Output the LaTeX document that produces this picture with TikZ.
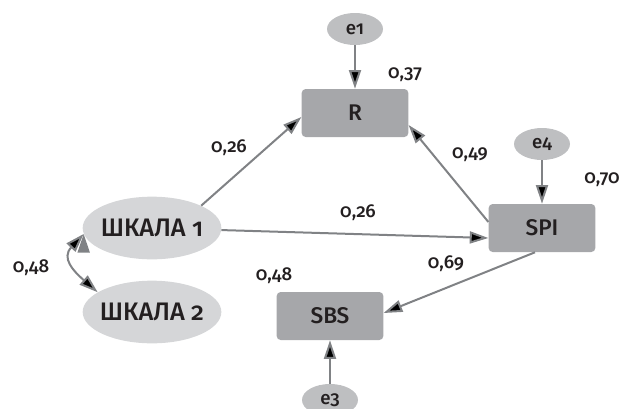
\documentclass[tikz,border=0pt]{standalone}
\usepackage{fontspec}
\setmainfont{Fira Sans}[UprightFont={* Medium}, Numbers=OldStyle]
\usetikzlibrary{arrows.meta,shapes,positioning,calc}
\definecolor{boxgray}{RGB}{166,167,170}
\definecolor{scalegray}{RGB}{213,214,216}
\definecolor{errgray}{RGB}{190,191,193}
\definecolor{linegray}{RGB}{128,130,133}
\definecolor{txtgray}{RGB}{35,31,32}
\tikzset{obs/.style={rectangle,rounded corners=3pt,fill=boxgray,minimum width=80pt,minimum height=36pt,font=\fontsize{17}{20}\selectfont},
 scalenode/.style={ellipse,fill=scalegray,minimum width=104pt,minimum height=47pt,inner xsep=-3pt,inner ysep=0pt,font=\fontsize{19}{22}\selectfont},
 err/.style={ellipse,fill=errgray,minimum width=42pt,minimum height=24pt,inner sep=0pt,font=\fontsize{14}{16}\selectfont},
 coef/.style={font=\fontsize{14}{16}\selectfont}}

\begin{document}
\begin{tikzpicture}[x=0.75pt, y=0.75pt, >={Triangle[length=14pt,width=9pt]}, node distance=63pt, text=txtgray]
\useasboundingbox (0,0) rectangle (621,-408);
\node[obs] (R) at (355,-113) {R};
\node[obs] (SPI) at (542,-228) {SPI};
\node[obs] (SBS) at (330,-316) {SBS};
\node[err][above of=R] (e1) {e1};
\node[err][above of=SPI] (e4) {e4};
\node[err][below of=SBS] (e3) {e3};
\node[scalenode] (S1) at (152,-228) {ШКАЛА 1};
\node[scalenode][below of=S1] (S2) {ШКАЛА 2};
% coefficients
\node[coef] (c1) at (405,-75) {0,37};
\node[coef] (c2) at (229,-148) {0,26};
\node[coef] (c3) at (470,-155) {0,49};
\node[coef] (c4) at (602,-180) {0,70};
\node[coef] (c5) at (358,-213) {0,26};
\node[coef] (c6) at (446,-264) {0,69};
\node[coef] (c7) at (274,-276) {0,48};
\node[coef] (c8) at (31,-268) {0,48};
\path[->, draw=linegray, line width=1.5pt]
  (e1) edge (R)
  (e4) edge (SPI)
  (e3) edge (SBS)
  (S1.north east) edge ($(R.west)+(0,-4)$)
  (S1) edge ($(SPI.west)+(0,-10)$)
  ($(SPI.west)+(0,6)$) edge ($(R.east)+(0,-12)$)
  ($(SPI.south)+(-7,0)$) edge ($(SBS.east)+(0,3)$)
  (S1.185) edge[<->, out=227, in=139, looseness=1.4] (S2.160);
\end{tikzpicture}
\end{document}
